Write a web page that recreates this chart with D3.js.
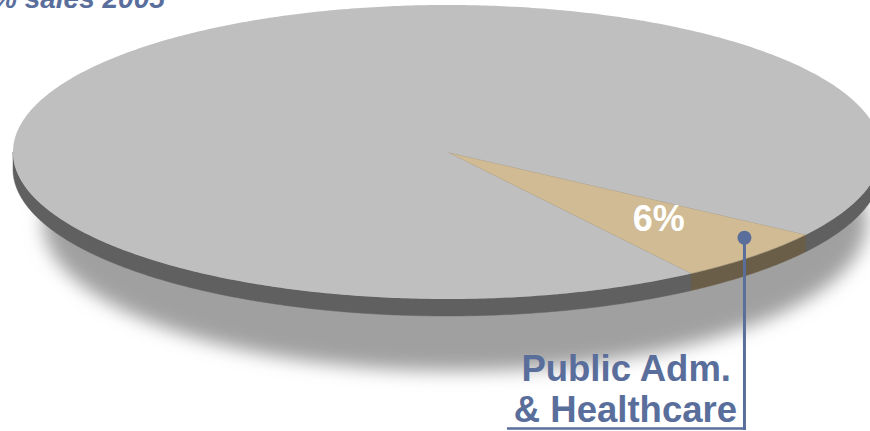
<!DOCTYPE html>
<html>
<head>
<meta charset="utf-8">
<script src="https://cdn.jsdelivr.net/npm/d3@7"></script>
<style>
  html, body { margin: 0; padding: 0; background: #ffffff; }
  svg { display: block; }
</style>
</head>
<body>
<svg id="chart" width="870" height="431"></svg>
<script>
// Sales split, 2005 (percent of total)
const categories = ["Public Adm. & Healthcare", "Other sectors"];
const shares = [6, 94];
const topColors = ["#d0bb94", "#bfbfbf"];
const sideColors = ["#6b5e48", "#606060"];
const chartTitle = "% sales 2005";
const calloutLines = ["Public Adm.", "& Healthcare"];

const W = 870, H = 431;
const svg = d3.select("#chart");

// Tilted disc geometry (top face ellipse + rim depth)
const cx = 447, cy = 152, rx = 434, ry = 147, depth = 17;

// Screen angle t measured from +x, clockwise (y down); d3 pie angles start at 12 o'clock
const toT = a => a - Math.PI / 2;
const pt = (t, k = 1, dy = 0) => [cx + rx * k * Math.cos(t), cy + ry * k * Math.sin(t) + dy];

const start = (124.2 / 180) * Math.PI;
const pie = d3.pie().sort(null).value(d => d).startAngle(start).endAngle(start + 2 * Math.PI);
const arcs = pie(shares);

const line = d3.line();
function arcPoints(t0, t1, dy = 0) {
  const n = Math.max(2, Math.ceil(Math.abs(t1 - t0) / 0.01));
  return d3.range(n + 1).map(i => pt(t0 + (t1 - t0) * i / n, 1, dy));
}

// Soft drop shadow beneath the disc
const defs = svg.append("defs");
defs.append("filter").attr("id", "soft").attr("x", "-20%").attr("y", "-20%").attr("width", "140%").attr("height", "140%")
  .append("feGaussianBlur").attr("stdDeviation", 9);

svg.append("ellipse")
  .attr("cx", cx + 8).attr("cy", cy + 70)
  .attr("rx", rx - 22).attr("ry", ry + 2)
  .attr("fill", "#a0a0a0")
  .attr("filter", "url(#soft)");

// Rim: only the front half (0..PI in screen angle) is visible
const rim = svg.append("g");
arcs.forEach((d, i) => {
  // walk the slice's range and clip to the front half, handling wrap-around
  const t0 = toT(d.startAngle), t1 = toT(d.endAngle);
  const pieces = [];
  for (let k = -1; k <= 1; k++) {
    const a = Math.max(t0, 0 + 2 * Math.PI * k);
    const b = Math.min(t1, Math.PI + 2 * Math.PI * k);
    if (b > a) pieces.push([a, b]);
  }
  pieces.forEach(([a, b]) => {
    const upper = arcPoints(a, b, 0);
    const lower = arcPoints(b, a, depth);
    rim.append("path")
      .attr("d", line(upper.concat(lower)) + "Z")
      .attr("fill", sideColors[i])
      .attr("stroke", sideColors[i])
      .attr("stroke-width", 0.5);
  });
});

// Top face slices
const topG = svg.append("g");
arcs.forEach((d, i) => {
  const pts = [[cx, cy]].concat(arcPoints(toT(d.startAngle), toT(d.endAngle)));
  topG.append("path")
    .attr("d", line(pts) + "Z")
    .attr("fill", topColors[i])
    .attr("stroke", i === 0 ? "#a8987c" : "none")
    .attr("stroke-width", 0.6);
});

// Percentage label inside the highlighted slice
const hl = arcs[0];
const mid = toT((hl.startAngle + hl.endAngle) / 2);
const lp = pt(mid, 0.69);
svg.append("text")
  .attr("x", lp[0]).attr("y", lp[1] + 7)
  .attr("text-anchor", "middle")
  .attr("font-family", "Liberation Sans, Arial, sans-serif")
  .attr("font-weight", "bold")
  .attr("font-size", 36)
  .attr("fill", "#ffffff")
  .text(d3.format(".0f")(shares[0]) + "%");

// Callout: dot on the slice, leader down to the underlined category label
const blue = "#5a6e9c";
const anchor = pt(mid - (4.6 / 180) * Math.PI, 0.9);
const labelRight = [731, 737];
const baseY = [381, 422];
const underY = 428.5;

svg.append("line")
  .attr("x1", anchor[0]).attr("y1", anchor[1])
  .attr("x2", anchor[0]).attr("y2", underY + 1.5)
  .attr("stroke", blue).attr("stroke-width", 3);
svg.append("line")
  .attr("x1", 507).attr("y1", underY)
  .attr("x2", anchor[0] + 1.5).attr("y2", underY)
  .attr("stroke", blue).attr("stroke-width", 2.5);
svg.append("circle")
  .attr("cx", anchor[0]).attr("cy", anchor[1]).attr("r", 7)
  .attr("fill", blue);

svg.append("g").selectAll("text").data(calloutLines).join("text")
  .attr("x", (d, i) => labelRight[i])
  .attr("y", (d, i) => baseY[i])
  .attr("text-anchor", "end")
  .attr("font-family", "Liberation Sans, Arial, sans-serif")
  .attr("font-weight", "bold")
  .attr("font-size", 36.5)
  .attr("fill", blue)
  .text(d => d);

// Chart title, partly above the top edge
svg.append("text")
  .attr("x", -8).attr("y", 8)
  .attr("font-family", "Liberation Sans, Arial, sans-serif")
  .attr("font-weight", "bold")
  .attr("font-style", "italic")
  .attr("font-size", 28)
  .attr("fill", blue)
  .text(chartTitle);
</script>
</body>
</html>
